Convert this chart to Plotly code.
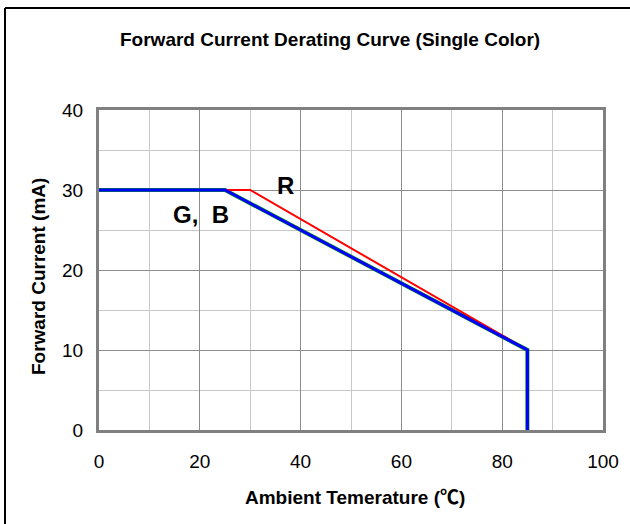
import plotly.graph_objects as go

# Data
temp_r = [0, 30, 85, 85]
curr_r = [30, 30, 10, 0]
temp_gb = [0, 25, 85, 85]
curr_gb = [30, 30, 10, 0]
x_ticks = [0, 20, 40, 60, 80, 100]
y_ticks = [0, 10, 20, 30, 40]

FONT = "Liberation Sans, Arial, sans-serif"

fig = go.Figure()
fig.add_trace(go.Scatter(x=temp_gb, y=curr_gb, mode="lines",
                         line=dict(color="#00a000", width=4), name="G",
                         hoverinfo="skip"))
fig.add_trace(go.Scatter(x=temp_r, y=curr_r, mode="lines",
                         line=dict(color="#ff0000", width=2), name="R"))
fig.add_trace(go.Scatter(x=temp_gb, y=curr_gb, mode="lines",
                         line=dict(color="#0000ff", width=3), name="B"))

fig.update_layout(
    width=630, height=524,
    margin=dict(l=99, r=27, t=110, b=94),
    paper_bgcolor="white", plot_bgcolor="white",
    showlegend=False,
    font=dict(family=FONT, color="black"),
    xaxis=dict(range=[0, 100], tickvals=x_ticks, showgrid=True,
               gridcolor="#8c8c8c", gridwidth=1,
               minor=dict(dtick=10, showgrid=True, gridcolor="#c8c8c8", gridwidth=1),
               showline=True, linecolor="#808080", linewidth=3, mirror=True,
               ticks="", ticklabelstandoff=12,
               tickfont=dict(size=19, family=FONT, color="black"),
               zeroline=False),
    yaxis=dict(range=[0, 40], tickvals=y_ticks, showgrid=True,
               gridcolor="#8c8c8c", gridwidth=1,
               minor=dict(dtick=5, showgrid=True, gridcolor="#c8c8c8", gridwidth=1),
               showline=True, linecolor="#808080", linewidth=3, mirror=True,
               ticks="", ticklabelstandoff=9,
               tickfont=dict(size=19, family=FONT, color="black"),
               zeroline=False),
    annotations=[
        dict(text="<b>Forward Current Derating Curve (Single Color)</b>",
             xref="paper", yref="paper", x=0.458, y=1.219, showarrow=False,
             xanchor="center", yanchor="middle",
             font=dict(size=19, family=FONT, color="black")),
        dict(text="<b>Ambient Temerature (<span style='font-family:Noto Sans CJK SC'>℃</span>)</b>",
             xref="paper", yref="paper", x=0.507, y=-0.206, showarrow=False,
             xanchor="center", yanchor="middle",
             font=dict(size=19, family=FONT, color="black")),
        dict(text="<b>Forward Current (mA)</b>", textangle=-90,
             xref="paper", yref="paper", x=-0.121, y=0.478, showarrow=False,
             xanchor="center", yanchor="middle",
             font=dict(size=19, family=FONT, color="black")),
        dict(text="<b>R</b>", x=37, y=30.6, showarrow=False,
             font=dict(size=24, family=FONT, color="black")),
        dict(text="<b>G,  B</b>", x=20.3, y=26.9, showarrow=False,
             font=dict(size=24, family=FONT, color="black")),
    ],
    shapes=[
        dict(type="line", xref="paper", yref="paper",
             x0=-0.1865, x1=1.06, y0=1.31875, y1=1.31875,
             line=dict(color="black", width=2)),
        dict(type="line", xref="paper", yref="paper",
             x0=-0.1865, x1=-0.1865, y0=1.31875, y1=-0.30,
             line=dict(color="black", width=2)),
    ],
)

fig.write_html("out.html", config={"displayModeBar": False},
               post_script="document.body.style.margin='0px';document.body.style.padding='0px';")
